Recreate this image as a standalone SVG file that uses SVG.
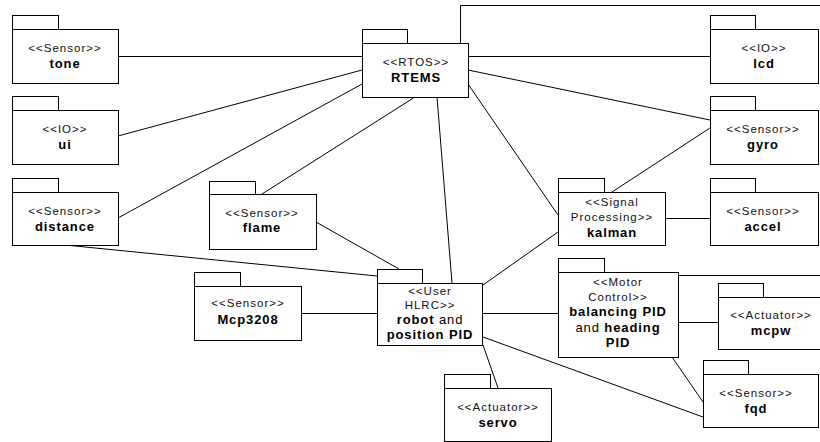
<svg xmlns="http://www.w3.org/2000/svg" width="820" height="442" viewBox="0 0 820 442">
<style>
.pk{fill:#fff;stroke:#000;stroke-width:1}
.ln{fill:none;stroke:#000;stroke-width:1}
.st{font-family:"Liberation Sans",Arial,sans-serif;font-size:11.5px;letter-spacing:1px;fill:#111;text-anchor:middle}
.nm{font-family:"Liberation Sans",Arial,sans-serif;font-size:13px;letter-spacing:0.9px;font-weight:bold;fill:#000;text-anchor:middle}
.rg{font-weight:normal}
</style>
<rect width="820" height="442" fill="#fff"/>
<g id="connectors" class="ln">
<polyline points="460.5,43 460.5,5.5 820,5.5"/>
<line x1="118" y1="56.5" x2="362" y2="56.5"/>
<line x1="468" y1="56.5" x2="710" y2="56.5"/>
<line x1="118" y1="136" x2="362" y2="70"/>
<line x1="118" y1="218" x2="362" y2="84"/>
<line x1="262" y1="194" x2="415" y2="97"/>
<line x1="452" y1="283" x2="437" y2="97"/>
<line x1="468" y1="84" x2="558" y2="215"/>
<line x1="468" y1="70" x2="710" y2="120"/>
<line x1="710" y1="128" x2="612" y2="192"/>
<line x1="665" y1="218.5" x2="710" y2="218.5"/>
<line x1="65" y1="245" x2="377" y2="276"/>
<line x1="316" y1="222" x2="399" y2="269"/>
<line x1="483" y1="285" x2="558" y2="232"/>
<line x1="301" y1="313.5" x2="377" y2="313.5"/>
<line x1="483" y1="313.5" x2="558" y2="313.5"/>
<line x1="483" y1="337" x2="703" y2="417"/>
<line x1="483" y1="345" x2="498" y2="388"/>
<line x1="678" y1="322.5" x2="718" y2="322.5"/>
<line x1="672" y1="357" x2="703" y2="402"/>
<line x1="678" y1="275.5" x2="820" y2="275.5"/>
</g>
<g id="tone">
<rect class="pk" x="12.5" y="15.5" width="46" height="14"/>
<rect class="pk" x="12.5" y="29.5" width="106" height="54"/>
<text class="st" x="65" y="52">&lt;&lt;Sensor&gt;&gt;</text>
<text class="nm" x="65" y="68">tone</text>
</g>
<g id="ui">
<rect class="pk" x="12.5" y="96.5" width="46" height="14"/>
<rect class="pk" x="12.5" y="110.5" width="106" height="54"/>
<text class="st" x="65" y="133">&lt;&lt;IO&gt;&gt;</text>
<text class="nm" x="65" y="149">ui</text>
</g>
<g id="distance">
<rect class="pk" x="12.5" y="178.5" width="46" height="14"/>
<rect class="pk" x="12.5" y="192.5" width="106" height="53"/>
<text class="st" x="65" y="215">&lt;&lt;Sensor&gt;&gt;</text>
<text class="nm" x="65" y="231">distance</text>
</g>
<g id="flame">
<rect class="pk" x="209.5" y="181.5" width="46" height="13"/>
<rect class="pk" x="209.5" y="194.5" width="107" height="55"/>
<text class="st" x="262" y="217">&lt;&lt;Sensor&gt;&gt;</text>
<text class="nm" x="262" y="232">flame</text>
</g>
<g id="RTEMS">
<rect class="pk" x="362.5" y="29.5" width="45" height="14"/>
<rect class="pk" x="362.5" y="43.5" width="106" height="54"/>
<text class="st" x="416" y="66">&lt;&lt;RTOS&gt;&gt;</text>
<text class="nm" x="416" y="82">RTEMS</text>
</g>
<g id="lcd">
<rect class="pk" x="710.5" y="15.5" width="45" height="14"/>
<rect class="pk" x="710.5" y="29.5" width="108" height="54"/>
<text class="st" x="764" y="52">&lt;&lt;IO&gt;&gt;</text>
<text class="nm" x="764" y="68">lcd</text>
</g>
<g id="gyro">
<rect class="pk" x="710.5" y="96.5" width="45" height="14"/>
<rect class="pk" x="710.5" y="110.5" width="108" height="54"/>
<text class="st" x="763" y="133">&lt;&lt;Sensor&gt;&gt;</text>
<text class="nm" x="763" y="149">gyro</text>
</g>
<g id="accel">
<rect class="pk" x="710.5" y="178.5" width="45" height="14"/>
<rect class="pk" x="710.5" y="192.5" width="108" height="53"/>
<text class="st" x="763" y="215">&lt;&lt;Sensor&gt;&gt;</text>
<text class="nm" x="763" y="231">accel</text>
</g>
<g id="kalman">
<rect class="pk" x="558.5" y="178.5" width="46" height="14"/>
<rect class="pk" x="558.5" y="192.5" width="107" height="53"/>
<text class="st" x="612" y="206">&lt;&lt;Signal</text>
<text class="st" x="612" y="221">Processing&gt;&gt;</text>
<text class="nm" x="612" y="237">kalman</text>
</g>
<g id="motorControl">
<rect class="pk" x="558.5" y="258.5" width="46" height="14"/>
<rect class="pk" x="558.5" y="272.5" width="120" height="85"/>
<text class="st" x="618" y="286">&lt;&lt;Motor</text>
<text class="st" x="618" y="301">Control&gt;&gt;</text>
<text class="nm" x="618" y="316">balancing PID</text>
<text class="nm" x="618" y="332"><tspan class="rg">and</tspan> heading</text>
<text class="nm" x="618" y="347">PID</text>
</g>
<g id="mcpw">
<rect class="pk" x="718.5" y="283.5" width="45" height="14"/>
<rect class="pk" x="718.5" y="297.5" width="106" height="52"/>
<text class="st" x="771" y="319">&lt;&lt;Actuator&gt;&gt;</text>
<text class="nm" x="771" y="335">mcpw</text>
</g>
<g id="fqd">
<rect class="pk" x="703.5" y="360.5" width="45" height="14"/>
<rect class="pk" x="703.5" y="374.5" width="115" height="53"/>
<text class="st" x="756" y="397">&lt;&lt;Sensor&gt;&gt;</text>
<text class="nm" x="756" y="413">fqd</text>
</g>
<g id="robot">
<rect class="pk" x="377.5" y="269.5" width="45" height="14"/>
<rect class="pk" x="377.5" y="283.5" width="105" height="62"/>
<text class="st" x="430" y="295">&lt;&lt;User</text>
<text class="st" x="430" y="309">HLRC&gt;&gt;</text>
<text class="nm" x="430" y="324">robot <tspan class="rg">and</tspan></text>
<text class="nm" x="430" y="339">position PID</text>
</g>
<g id="Mcp3208">
<rect class="pk" x="194.5" y="272.5" width="46" height="14"/>
<rect class="pk" x="194.5" y="286.5" width="107" height="54"/>
<text class="st" x="248" y="307">&lt;&lt;Sensor&gt;&gt;</text>
<text class="nm" x="248" y="324">Mcp3208</text>
</g>
<g id="servo">
<rect class="pk" x="444.5" y="374.5" width="46" height="14"/>
<rect class="pk" x="444.5" y="388.5" width="107" height="53"/>
<text class="st" x="498" y="411">&lt;&lt;Actuator&gt;&gt;</text>
<text class="nm" x="498" y="427">servo</text>
</g>
</svg>
